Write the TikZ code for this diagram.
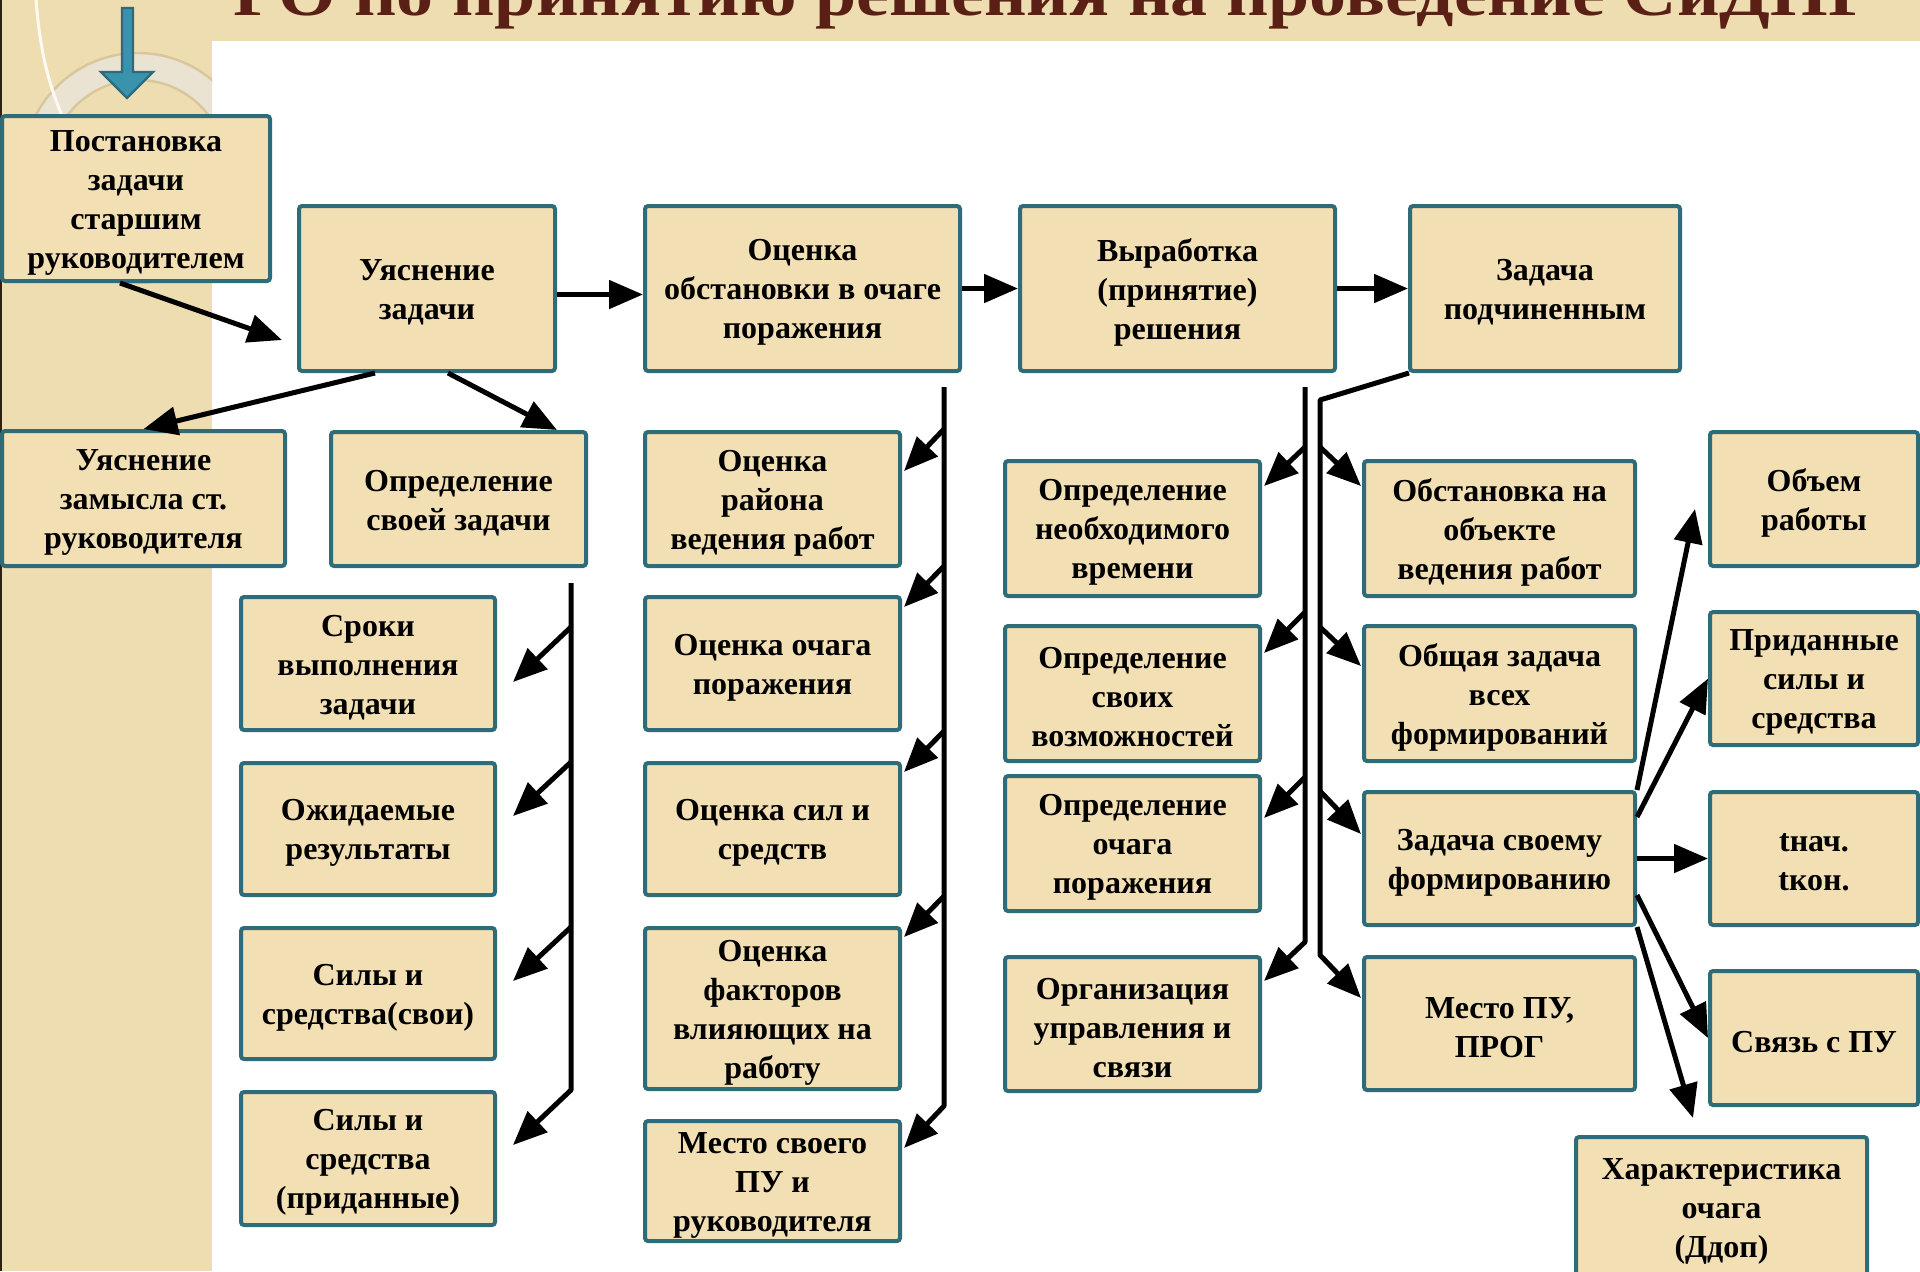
\documentclass[tikz,border=0pt]{standalone}
\usepackage{fontspec}
\usepackage{graphicx}
\setmainfont{Liberation Serif}
\usetikzlibrary{arrows.meta,calc}
\definecolor{boxfill}{HTML}{F2DFB3}
\definecolor{bandfill}{HTML}{EFDDB2}
\definecolor{boxline}{HTML}{2F6C7A}
\definecolor{titlecol}{HTML}{5A2015}
\definecolor{ringcol}{HTML}{EBE3D1}
\definecolor{ringedge}{HTML}{D8C69C}
\definecolor{bluefill}{HTML}{3A93AD}
\definecolor{blueline}{HTML}{2A6B7D}
\tikzset{
 bx/.style={draw=boxline, line width=2pt, fill=boxfill, rounded corners=1.5pt, inner sep=0pt},
 bxtext/.style={align=center, inner sep=0pt, font=\fontsize{16}{19.5}\selectfont\bfseries},
 arr/.style={line width=2.5pt, line join=round, -{Triangle[length=17pt,width=14pt]}},
}
\newcommand\bx[6]{\node[bx, minimum width={(#4-#2)*0.5pt}, minimum height={(#5-#3)*0.5pt}] (#1) at ({(#2+#4)/2},{(#3+#5)/2}) {};
\node[bxtext] (#1t) at ($(#1.center)+(0,4)$) {#6};}
\begin{document}
\begin{tikzpicture}[x=0.5pt,y=-0.5pt]
\useasboundingbox (0,0) rectangle (1920,1271);
\clip (0,0) rectangle (1920,1271);
% background
\fill[white] (0,0) rectangle (1920,1271);
\fill[bandfill] (0,0) rectangle (212,1271);
\fill[bandfill] (212,0) rectangle (1920,41);
\begin{scope}
\clip (0,0) rectangle (212,1271);
\fill[ringcol, even odd rule] (138,168) circle[radius=57.5pt] (138,168) circle[radius=44pt];
\draw[ringedge, line width=1.2pt] (138,168) circle[radius=57.5pt] (138,168) circle[radius=44pt];
\end{scope}
\draw[white!85!bandfill, line width=1.5pt] (36,0) .. controls (40,50) and (48,85) .. (66,125);
\fill[black!75!brown] (0,0) rectangle (2,1271);
\filldraw[fill=bluefill, draw=blueline, line width=1.2pt, line join=miter] (122,8) -- (133,8) -- (133,72) -- (153,72) -- (127,98) -- (101,72) -- (122,72) -- cycle;
% title (clipped at top)
\node[anchor=base west, inner sep=0pt, text=titlecol, font=\fontsize{32}{36}\selectfont\bfseries] (title) at (233,15) {\resizebox{820pt}{\height}{РО по принятию решения на проведение СиДНР}};
% boxes
\bx{b1}{2}{116}{270}{281}{Постановка\\задачи\\старшим\\руководителем}
\bx{b2}{299}{206}{555}{371}{Уяснение\\задачи}
\bx{b3}{645}{206}{960}{371}{Оценка\\обстановки в очаге\\поражения}
\bx{b4}{1020}{206}{1335}{371}{Выработка\\(принятие)\\решения}
\bx{b5}{1410}{206}{1680}{371}{Задача\\подчиненным}
\bx{b6}{2}{431}{285}{566}{Уяснение\\замысла ст.\\руководителя}
\bx{b7}{331}{432}{586}{566}{Определение\\своей задачи}
\bx{b8}{241}{597}{495}{730}{Сроки\\выполнения\\задачи}
\bx{b9}{241}{763}{495}{895}{Ожидаемые\\результаты}
\bx{b10}{241}{928}{495}{1059}{Силы и\\средства(свои)}
\bx{b11}{241}{1092}{495}{1225}{Силы и\\средства\\(приданные)}
\bx{b12}{645}{432}{900}{566}{Оценка\\района\\ведения работ}
\bx{b13}{645}{597}{900}{730}{Оценка очага\\поражения}
\bx{b14}{645}{763}{900}{895}{Оценка сил и\\средств}
\bx{b15}{645}{928}{900}{1089}{Оценка\\факторов\\влияющих на\\работу}
\bx{b16}{645}{1121}{900}{1241}{Место своего\\ПУ и\\руководителя}
\bx{b17}{1005}{461}{1260}{596}{Определение\\необходимого\\времени}
\bx{b18}{1005}{626}{1260}{761}{Определение\\своих\\возможностей}
\bx{b19}{1005}{776}{1260}{911}{Определение\\очага\\поражения}
\bx{b20}{1005}{957}{1260}{1091}{Организация\\управления и\\связи}
\bx{b21}{1364}{461}{1635}{596}{Обстановка на\\объекте\\ведения работ}
\bx{b22}{1364}{626}{1635}{761}{Общая задача\\всех\\формирований}
\bx{b23}{1364}{792}{1635}{925}{Задача своему\\формированию}
\bx{b24}{1364}{957}{1635}{1090}{Место ПУ,\\ПРОГ}
\bx{b25}{1710}{432}{1918}{566}{Объем\\работы}
\bx{b26}{1710}{612}{1918}{745}{Приданные\\силы и\\средства}
\bx{b27}{1710}{792}{1918}{925}{tнач.\\tкон.}
\bx{b28}{1710}{971}{1918}{1105}{Связь с ПУ}
\bx{b29}{1576}{1137}{1867}{1278}{Характеристика\\очага\\(Ддоп)}
% top connectors
\draw[arr] ($(b1.south)+(-16,0)$) -- ($(b2.south west)+(-15,-33)$);
\draw[arr] ($(b2.east)+(0,6)$) -- ($(b3.west)+(0,6)$);
\draw[arr] (b3.east) -- (b4.west);
\draw[arr] (b4.east) -- (b5.west);
\draw[arr] ($(b2.south)+(-52,0)$) -- (b6.north);
\draw[arr] ($(b2.south)+(21,0)$) -- ($(b7.north east)+(-31,0)$);
% column 1
\coordinate (c1t) at (571,583);
\coordinate (c1a) at (571,627);
\coordinate (c1b) at (571,762);
\coordinate (c1c) at (571,927);
\coordinate (c1e) at (571,1090);
\draw[arr] (c1t) -- (c1e) -- ($(b11.north east)+(16,55)$);
\draw[arr] (c1a) -- ($(b8.north east)+(16,87)$);
\draw[arr] (c1b) -- ($(b9.north east)+(16,55)$);
\draw[arr] (c1c) -- ($(b10.north east)+(16,55)$);
% column 2
\coordinate (c2t) at (944,387);
\coordinate (c2a) at (944,429);
\coordinate (c2b) at (944,566);
\coordinate (c2c) at (944,731);
\coordinate (c2d) at (944,896);
\coordinate (c2e) at (944,1106);
\draw[arr] (c2t) -- (c2e) -- ($(b16.north east)+(2,29)$);
\draw[arr] (c2a) -- ($(b12.north east)+(2,41)$);
\draw[arr] (c2b) -- ($(b13.north east)+(2,12)$);
\draw[arr] (c2c) -- ($(b14.north east)+(2,11)$);
\draw[arr] (c2d) -- ($(b15.north east)+(2,11)$);
% column 3
\coordinate (c3t) at (1305,387);
\coordinate (c3a) at (1305,447);
\coordinate (c3b) at (1305,612);
\coordinate (c3c) at (1305,777);
\coordinate (c3e) at (1305,942);
\draw[arr] (c3t) -- (c3e) -- ($(b20.north east)+(2,26)$);
\draw[arr] (c3a) -- ($(b17.north east)+(2,27)$);
\draw[arr] (c3b) -- ($(b18.north east)+(2,29)$);
\draw[arr] (c3c) -- ($(b19.north east)+(2,44)$);
% column 4
\coordinate (c4k) at (1320,400);
\coordinate (c4a) at (1320,447);
\coordinate (c4b) at (1320,627);
\coordinate (c4c) at (1320,791);
\coordinate (c4e) at (1320,955);
\draw[arr] ($(b5.south west)+(1,0)$) -- (c4k) -- (c4e) -- ($(b24.north west)+(-1,43)$);
\draw[arr] (c4a) -- ($(b21.north west)+(-1,27)$);
\draw[arr] (c4b) -- ($(b22.north west)+(-1,42)$);
\draw[arr] (c4c) -- ($(b23.north west)+(-1,44)$);
% right fan
\draw[arr] (b23.north east) -- ($(b25.south west)+(-13,-59)$);
\draw[arr] ($(b23.north east)+(0,27)$) -- (b26.west);
\draw[arr] (b23.east) -- (b27.west);
\draw[arr] ($(b23.north east)+(0,105)$) -- (b28.west);
\draw[arr] (b23.south east) -- ($(b29.north west)+(119,-17)$);
\end{tikzpicture}
\end{document}
